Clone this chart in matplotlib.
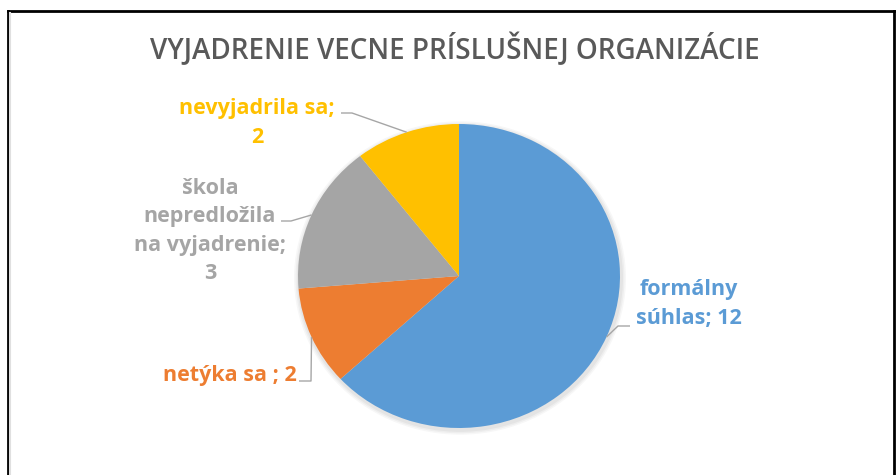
import matplotlib
matplotlib.use("Agg")
import matplotlib.pyplot as plt
import numpy as np
from matplotlib.lines import Line2D

title = "VYJADRENIE VECNE PRÍSLUŠNEJ ORGANIZÁCIE"
categories = ["formálny súhlas", "netýka sa ", "škola nepredložila na vyjadrenie", "nevyjadrila sa"]
values = [12, 2, 3, 2]
colors = ["#5B9BD5", "#ED7D31", "#A5A5A5", "#FFC000"]
label_texts = ["formálny\nsúhlas; 12", "netýka sa ; 2", "škola\nnepredložila\nna vyjadrenie;\n3", "nevyjadrila sa;\n2"]

W, H = 896, 475
k = 161 / 152  # the screenshot is slightly stretched horizontally
fig = plt.figure(figsize=(W / 100, H / 100), dpi=100)
fig.patch.set_facecolor("white")
ax = fig.add_axes([0, 0, 1, 1])


def Y(yp):
    return (H - yp) * k


cx, cy, r = 459, Y(276), 161

# soft shadow
for i, a in enumerate([0.04, 0.035, 0.03]):
    sh = plt.Circle((cx + 1, cy - 2 * k), r + 2 + i * 1.5, color="black", alpha=a, zorder=1, lw=0)
    ax.add_patch(sh)

wedges, _ = ax.pie(values, colors=colors, startangle=90, counterclock=False,
                   center=(cx, cy), radius=r, frame=True,
                   wedgeprops=dict(linewidth=0, zorder=2))
ax.set_xlim(0, W)
ax.set_ylim(0, H * k)
ax.set_aspect("auto")
ax.axis("off")

font = "Open Sans"
lfs = 15.5

label_pos = [
    dict(xy=(689, 304), ha="center", elbow=(618, 326), end=(630, 326)),
    dict(xy=(297, 376), ha="right", elbow=(311, 381), end=(299, 381)),
    dict(xy=(210, 231), ha="center", elbow=(291, 221), end=(281, 221)),
    dict(xy=(257, 123), ha="center", elbow=(352, 113), end=(341, 113)),
]

for w, txt, col, lp in zip(wedges, label_texts, colors, label_pos):
    mid = np.deg2rad((w.theta1 + w.theta2) / 2)
    ex, ey = cx + r * np.cos(mid), cy + r * np.sin(mid)
    ax.plot([ex, lp["elbow"][0], lp["end"][0]], [ey, Y(lp["elbow"][1]), Y(lp["end"][1])],
            color="#A6A6A6", lw=1, zorder=3, solid_capstyle="butt")
    ax.text(lp["xy"][0], Y(lp["xy"][1]), txt, ha=lp["ha"], va="center", color=col,
            fontsize=lfs, fontweight="bold", family=font, linespacing=1.45, zorder=4)

fig.text(455 / W, 1 - 49 / H, title, ha="center", va="center", color="#595959",
         fontsize=20, fontweight="semibold", family=font)

# frame lines
fig.add_artist(Line2D([8 / W, 8 / W], [0, 1 - 11 / H], transform=fig.transFigure, color="black", lw=2))
fig.add_artist(Line2D([8 / W, 1], [1 - 11 / H, 1 - 11 / H], transform=fig.transFigure, color="black", lw=2))
fig.add_artist(Line2D([894 / W, 894 / W], [0, 1 - 11 / H], transform=fig.transFigure, color="black", lw=2))
fig.add_artist(Line2D([10 / W, 10 / W], [0, 1 - 13 / H], transform=fig.transFigure, color="#E0E0E0", lw=1.5))

fig.savefig("out.png", dpi=100, facecolor="white")
